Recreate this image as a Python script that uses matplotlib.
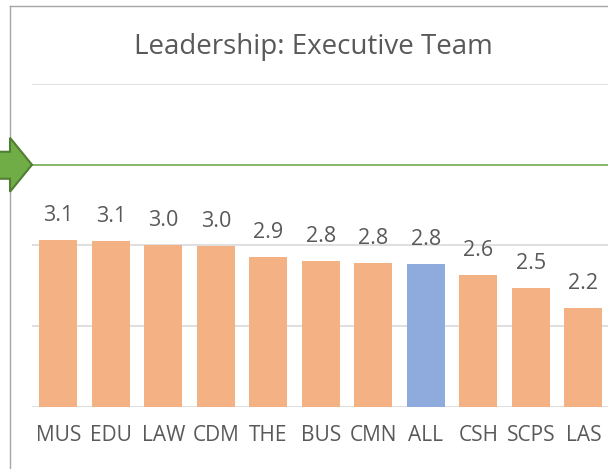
import numpy as np
import matplotlib
matplotlib.use("Agg")
import matplotlib.pyplot as plt
from matplotlib.patches import Polygon
from matplotlib.lines import Line2D
from matplotlib.transforms import IdentityTransform

plt.rcParams["font.family"] = ["Open Sans", "DejaVu Sans"]

# data
COLLEGES = ["MUS", "EDU", "LAW", "CDM", "THE", "BUS", "CMN", "ALL",
            "CSH", "SCPS", "LAS"]
SCORES = [3.07, 3.06, 3.01, 2.99, 2.86, 2.81, 2.78, 2.77, 2.64, 2.47, 2.23]
HIGHLIGHT = "ALL"
TARGET = 4.0
TITLE = "Leadership: Executive Team"

ORANGE = "#F4B183"
BLUE = "#8FAADC"
GREEN = "#70AD47"
GREEN_DARK = "#507E32"
TEXT = "#595959"
GRID = "#D9D9D9"

W, H = 608, 469
fig = plt.figure(figsize=(W / 100, H / 100), dpi=100)
ax = fig.add_axes([32 / W, (H - 407) / H, 0.95, (407 - 84) / H])

xs = np.arange(len(COLLEGES))
colors = [BLUE if c == HIGHLIGHT else ORANGE for c in COLLEGES]
ax.bar(xs, [s - 1 for s in SCORES], bottom=1, width=0.72, color=colors, zorder=2)

for x, v in zip(xs, SCORES):
    ax.annotate("{:.1f}".format(v), (x, v), xytext=(0, 19),
                textcoords="offset pixels", ha="center", va="baseline",
                fontsize=15.5, color=TEXT)

ax.set_xlim(-0.5, len(COLLEGES) - 0.5)
ax.set_ylim(1, 5)
ax.set_yticks([1, 2, 3, 4, 5])
ax.set_yticklabels([])
ax.set_xticks(xs)
ax.set_xticklabels(COLLEGES, fontsize=15, color=TEXT)
ax.tick_params(length=0)
ax.tick_params(axis="x", pad=13)
ax.grid(axis="y", color=GRID, lw=1.2, zorder=0)
ax.set_axisbelow(True)
for sp in ax.spines.values():
    sp.set_visible(False)

# target line
ax.axhline(TARGET, color=GREEN, lw=1.1, zorder=3)

fig.text(0.515, 1 - 47 / H, TITLE, ha="center", va="center",
         fontsize=20, color=TEXT)

# chart frame (only left and top edges are visible)
fig.add_artist(Line2D([10 / W, 10 / W], [0, 1 - 6 / H], color="#A6A6A6", lw=1))
fig.add_artist(Line2D([10 / W, 1], [1 - 6 / H, 1 - 6 / H], color="#A6A6A6", lw=1))

# arrow pointing at the target line
fig.canvas.draw()
tx, ty = ax.transData.transform((-0.5, TARGET))
shape = [(0, 0), (-22, 27), (-22, 13), (-40, 13), (-40, -14), (-22, -14), (-22, -27)]
arrow = Polygon([(tx + dx, ty + dy) for dx, dy in shape], closed=True,
                facecolor=GREEN, edgecolor=GREEN_DARK, lw=1.5,
                transform=IdentityTransform(), clip_on=False, zorder=5)
fig.add_artist(arrow)

fig.savefig("out.png", dpi=100)
